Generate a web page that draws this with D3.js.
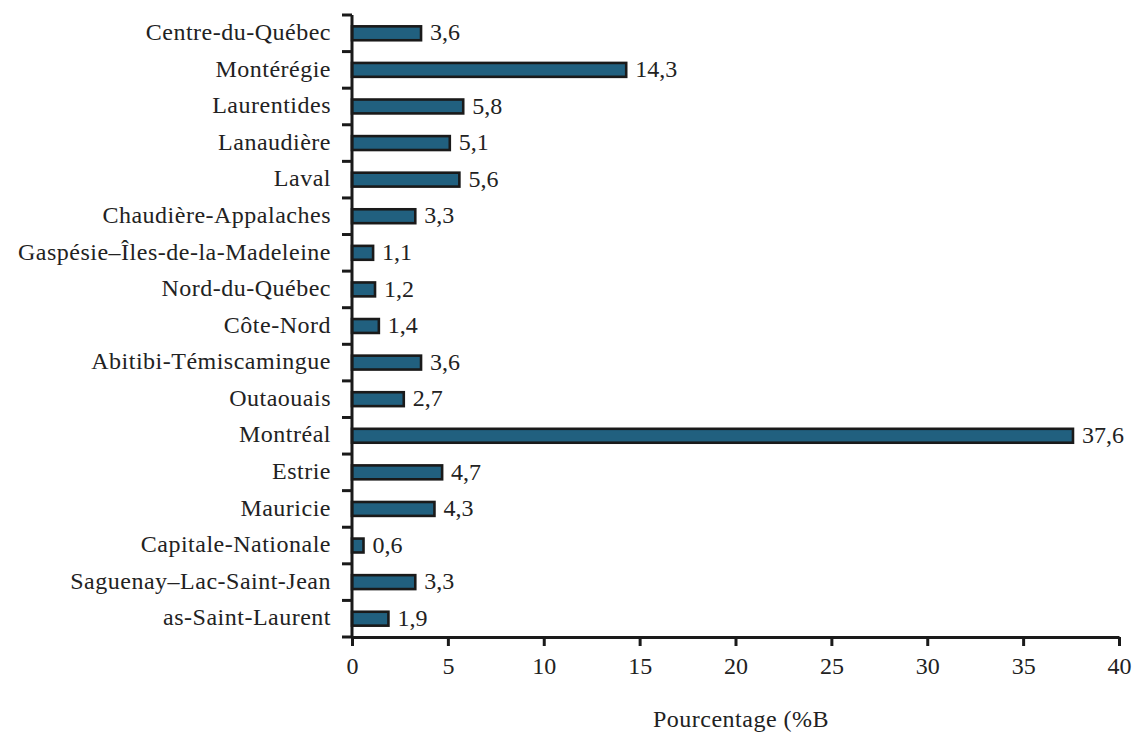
<!DOCTYPE html>
<html><head><meta charset="utf-8">
<script src="https://cdn.jsdelivr.net/npm/d3@7"></script>
<style>body{margin:0;background:#fff}svg{display:block}</style>
</head><body>
<svg id="c" width="1133" height="732"></svg>
<script>
const categories = ["Centre-du-Québec","Montérégie","Laurentides","Lanaudière","Laval","Chaudière-Appalaches","Gaspésie–Îles-de-la-Madeleine","Nord-du-Québec","Côte-Nord","Abitibi-Témiscamingue","Outaouais","Montréal","Estrie","Mauricie","Capitale-Nationale","Saguenay–Lac-Saint-Jean","as-Saint-Laurent"];
const values = [3.6,14.3,5.8,5.1,5.6,3.3,1.1,1.2,1.4,3.6,2.7,37.6,4.7,4.3,0.6,3.3,1.9];
const xTicks = [0,5,10,15,20,25,30,35,40];
const xTitle = "Pourcentage (%B";

const svg = d3.select("#c");
const font = "Liberation Serif";
const fs = 24;
const x = d3.scaleLinear().domain([0,40]).range([352,1119]);
const y = d3.scaleBand().domain(categories).range([15,637]).paddingInner(0.62).paddingOuter(0.31);
const fmt = v => v.toFixed(1).replace(".", ",");

svg.append("g").selectAll("rect").data(values).join("rect")
  .attr("x", x(0)).attr("y", (d,i)=>y(categories[i]))
  .attr("width", d=>x(d)-x(0)).attr("height", y.bandwidth())
  .attr("fill","#21607f").attr("stroke","#1a1a1a").attr("stroke-width",2.6);

svg.append("g").selectAll("text").data(values).join("text")
  .attr("x", d=>x(d)+9).attr("y",(d,i)=>y(categories[i])+y.bandwidth()/2)
  .attr("dy","0.3em").attr("font-family",font).attr("font-size",fs).attr("fill","#222")
  .text(fmt);

const step = y.step();
const yr = y.range();
const ga = svg.append("g").attr("stroke","#1a1a1a").attr("stroke-width",3);
ga.append("line").attr("x1",x(0)).attr("x2",x(0)).attr("y1",yr[0]).attr("y2",yr[1]);
d3.range(categories.length+1).forEach(i=>{
  const yy = yr[0] + i*step;
  ga.append("line").attr("x1",x(0)-10).attr("x2",x(0)).attr("y1",yy).attr("y2",yy);
});
svg.append("g").selectAll("text").data(categories).join("text")
  .attr("x", x(0)-21).attr("y", d=>y(d)+y.bandwidth()/2).attr("dy","0.28em")
  .attr("text-anchor","end").attr("font-family",font).attr("font-size",fs).attr("fill","#222")
  .attr("letter-spacing",0.5)
  .text(d=>d);

const xa = svg.append("g").attr("transform",`translate(0,${yr[1]})`)
  .call(d3.axisBottom(x).tickValues(xTicks).tickSize(9).tickSizeOuter(0).tickPadding(11).tickFormat(d=>d));
xa.select(".domain").attr("stroke","#1a1a1a").attr("stroke-width",3);
xa.selectAll(".tick line").attr("stroke","#1a1a1a").attr("stroke-width",3);
xa.selectAll(".tick text").attr("font-family",font).attr("font-size",fs).attr("fill","#222");

svg.append("text").attr("x",741).attr("y",727).attr("text-anchor","middle")
  .attr("font-family",font).attr("font-size",fs).attr("fill","#222").attr("letter-spacing",0.5).text(xTitle);
</script>
</body></html>
